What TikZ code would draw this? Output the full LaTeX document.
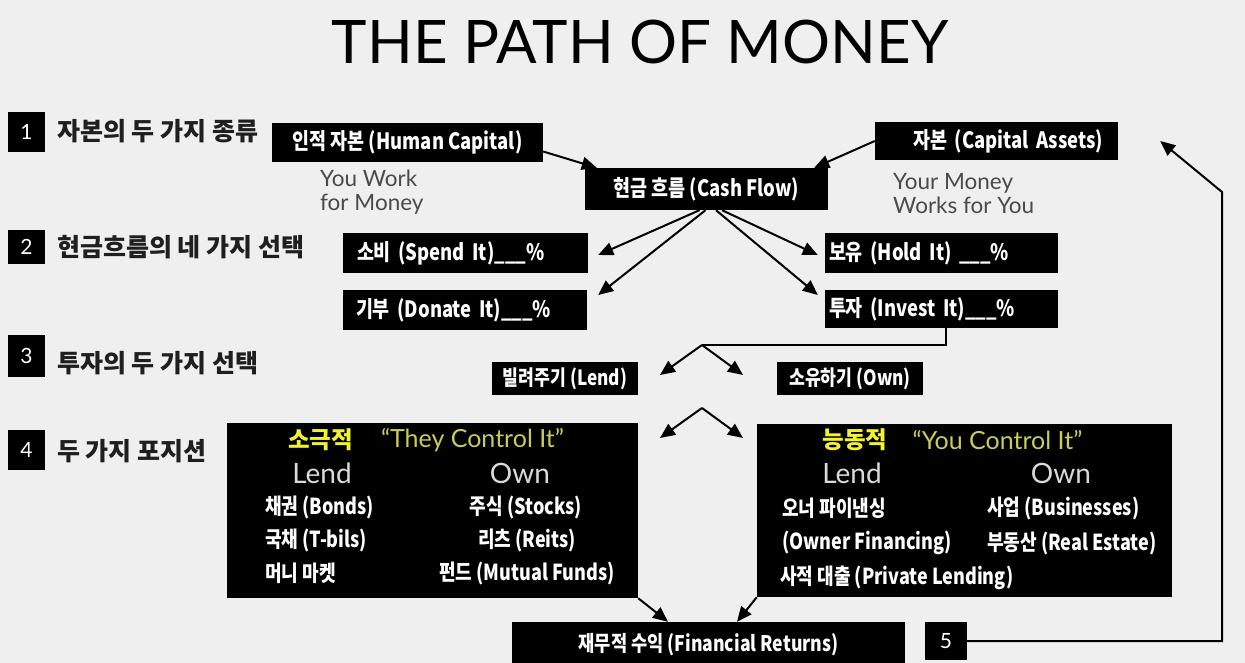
\documentclass[tikz,border=0pt]{standalone}
\usepackage{fontspec}
\usetikzlibrary{arrows.meta,calc}
\setmainfont{Lato}
\newfontfamily\kr{Noto Sans CJK KR}[FakeStretch=0.82]
\newfontfamily\krn{Noto Sans CJK KR}
\newfontfamily\lato{Lato}
\definecolor{bg}{HTML}{EFEFEF}
\definecolor{ylw}{HTML}{F2F230}
\definecolor{olive}{HTML}{C8CC58}
\definecolor{lgray}{HTML}{DADADA}
\definecolor{dgray}{HTML}{4A4A4A}
\begin{document}
\begin{tikzpicture}[x=1pt,y=-1pt,
  ttl/.style={inner sep=0pt, text=black, font=\lato\fontsize{60}{60}\selectfont},
  blk/.style={fill=black, text=white, inner sep=0pt, font=\kr\bfseries\fontsize{22.5}{24}\selectfont},
  num/.style={fill=black, text=white, inner sep=0pt, minimum width=37pt, font=\lato\fontsize{21}{24}\selectfont},
  sec/.style={anchor=west, inner sep=0pt, text=black!88, font=\krn\bfseries\fontsize{25}{28}\selectfont},
  bigbox/.style={fill=black, inner sep=0pt},
  wt/.style={text=white, inner sep=0pt, font=\kr\bfseries\fontsize{22}{24}\selectfont},
  ylwt/.style={text=ylw, inner sep=0pt, font=\krn\bfseries\fontsize{23.5}{26}\selectfont},
  qt/.style={text=olive, inner sep=0pt, font=\lato\fontsize{25}{28}\selectfont},
  le/.style={text=lgray, inner sep=0pt, font=\lato\fontsize{28}{30}\selectfont},
  gtxt/.style={anchor=west, align=left, inner sep=0pt, text=dgray, font=\lato\fontsize{22.5}{24}\selectfont},
  conn/.style={line width=2pt, draw=black},
  arr/.style={conn, -{Triangle[length=15pt,width=13pt]}}
]
\useasboundingbox (0,0) rectangle (1245,663);
\clip (0,0) rectangle (1245,663);
\fill[bg] (0,0) rectangle (1245,663);

\node[ttl] (title) at (640,42) {THE PATH OF MONEY};

% step numbers
\node[num, minimum height=40pt] (n1) at (26.5,132) {1};
\node[num, minimum height=34pt] (n2) at (26.5,247) {2};
\node[num, minimum height=42pt] (n3) at (26.5,356) {3};
\node[num, minimum height=40pt] (n4) at (26.5,450) {4};

% section labels
\node[sec] (s1) at (57,131) {자본의 두 가지 종류};
\node[sec] (s2) at (57,247) {현금흐름의 네 가지 선택};
\node[sec] (s3) at (57,363) {투자의 두 가지 선택};
\node[sec] (s4) at (57,451) {두 가지 포지션};

% boxes
\node[blk, minimum width=271pt, minimum height=39pt] (hc) at (407.5,142.5) {인적 자본 (Human Capital)};
\node[blk, text width=213pt, inner xsep=15pt, align=right, minimum height=38pt] (ca) at (996.5,141) {자본 (Capital Assets)};
\node[blk, minimum width=243pt, minimum height=42pt] (cf) at (706.5,189) {현금 흐름 (Cash Flow)};
\node[blk, text width=217pt, inner xsep=14pt, align=left, minimum height=40pt] (spend) at (465.5,253) {소비 (Spend It)\_\_\_\%};
\node[blk, text width=218pt, inner xsep=13pt, align=left, minimum height=40pt] (donate) at (465,310) {기부 (Donate It)\_\_\_\%};
\node[blk, text width=225pt, inner xsep=4pt, align=left, minimum height=40pt] (hold) at (941.5,253) {보유 (Hold It) \_\_\_\%};
\node[blk, text width=225pt, inner xsep=4pt, align=left, minimum height=38pt] (invest) at (941.5,309) {투자 (Invest It)\_\_\_\%};
\node[blk, minimum width=146pt, minimum height=33pt, font=\kr\bfseries\fontsize{21}{23}\selectfont] (lend) at (565,378.5) {빌려주기 (Lend)};
\node[blk, minimum width=146pt, minimum height=33pt, font=\kr\bfseries\fontsize{21}{23}\selectfont] (own) at (850,378.5) {소유하기 (Own)};
\node[bigbox, minimum width=411pt, minimum height=175pt] (passive) at (432.5,510.5) {};
\node[bigbox, minimum width=415pt, minimum height=173pt] (active) at (964.5,510.5) {};
\node[blk, minimum width=393pt, minimum height=46pt, font=\kr\bfseries\fontsize{21.5}{23}\selectfont] (fin) at (708.5,645) {재무적 수익 (Financial Returns)};
\node[num, minimum width=42pt, minimum height=38pt] (five) at (946,641) {5};

% captions
\node[gtxt] (yw) at (320,192) {You Work\\for Money};
\node[gtxt] (ym) at (893,194) {Your Money\\Works for You};

% passive box content
\node[ylwt] (pk) at (320.5,440) {소극적};
\node[qt] (pq) at (472.5,440) {“They Control It”};
\node[le] (pl) at (322,473) {Lend};
\node[le] (po) at (520,473) {Own};
\node[wt, anchor=west] (p1) at (265,507) {채권 (Bonds)};
\node[wt, anchor=west] (p2) at (265,540) {국채 (T-bils)};
\node[wt, anchor=west] (p3) at (265,573) {머니 마켓};
\node[wt] (p4) at (526,507) {주식 (Stocks)};
\node[wt] (p5) at (527,540) {리츠 (Reits)};
\node[wt] (p6) at (527,573) {펀드 (Mutual Funds)};

% active box content
\node[ylwt] (ak) at (855,440) {능동적};
\node[qt] (aq) at (997.5,440) {“You Control It”};
\node[le] (al) at (852,473) {Lend};
\node[le] (ao) at (1061,473) {Own};
\node[wt, anchor=west] (a1) at (782,508) {오너 파이낸싱};
\node[wt, anchor=west] (a2) at (782,543) {(Owner Financing)};
\node[wt, anchor=west] (a3) at (780,578) {사적 대출 (Private Lending)};
\node[wt, anchor=west] (a4) at (987,508) {사업 (Businesses)};
\node[wt, anchor=west] (a5) at (987,543) {부동산 (Real Estate)};

% connectors
\draw[arr] ([yshift=-9pt]hc.east) -- ([xshift=12pt]cf.north west);
\draw[arr] (ca.west) -- ([xshift=-14pt]cf.north east);
\draw[arr] ([xshift=-7pt]cf.south) -- ([xshift=10pt,yshift=-2pt]spend.east);
\draw[arr] ([xshift=-1pt]cf.south) -- ([xshift=11pt,yshift=15pt]donate.east);
\draw[arr] ([xshift=15.5pt]cf.south) -- ([xshift=-7pt,yshift=-2pt]hold.west);
\draw[arr] ([xshift=9.5pt]cf.south) -- ([xshift=-7pt,yshift=14pt]invest.west);

\coordinate (split1) at (702,345);
\coordinate (split2) at (702,408);
\coordinate (tipL1) at (660,375);
\coordinate (tipR1) at (743,375);
\coordinate (tipL2) at (660,438);
\coordinate (tipR2) at (743,438);
\draw[conn] ([xshift=4pt]invest.south) |- (split1);
\draw[arr] (split1) -- (tipL1);
\draw[arr] (split1) -- (tipR1);
\draw[arr] (split2) -- (tipL2);
\draw[arr] (split2) -- (tipR2);

\draw[arr] (passive.south east) -- ([xshift=-40.5pt]fin.north);
\draw[arr] (active.south west) -- ([xshift=28.5pt]fin.north);

\coordinate (loopA) at (1222,641);
\coordinate (loopB) at (1222,192);
\draw[arr] (five.east) -- (loopA) -- (loopB) -- ([xshift=42pt]ca.east);
\end{tikzpicture}
\end{document}
